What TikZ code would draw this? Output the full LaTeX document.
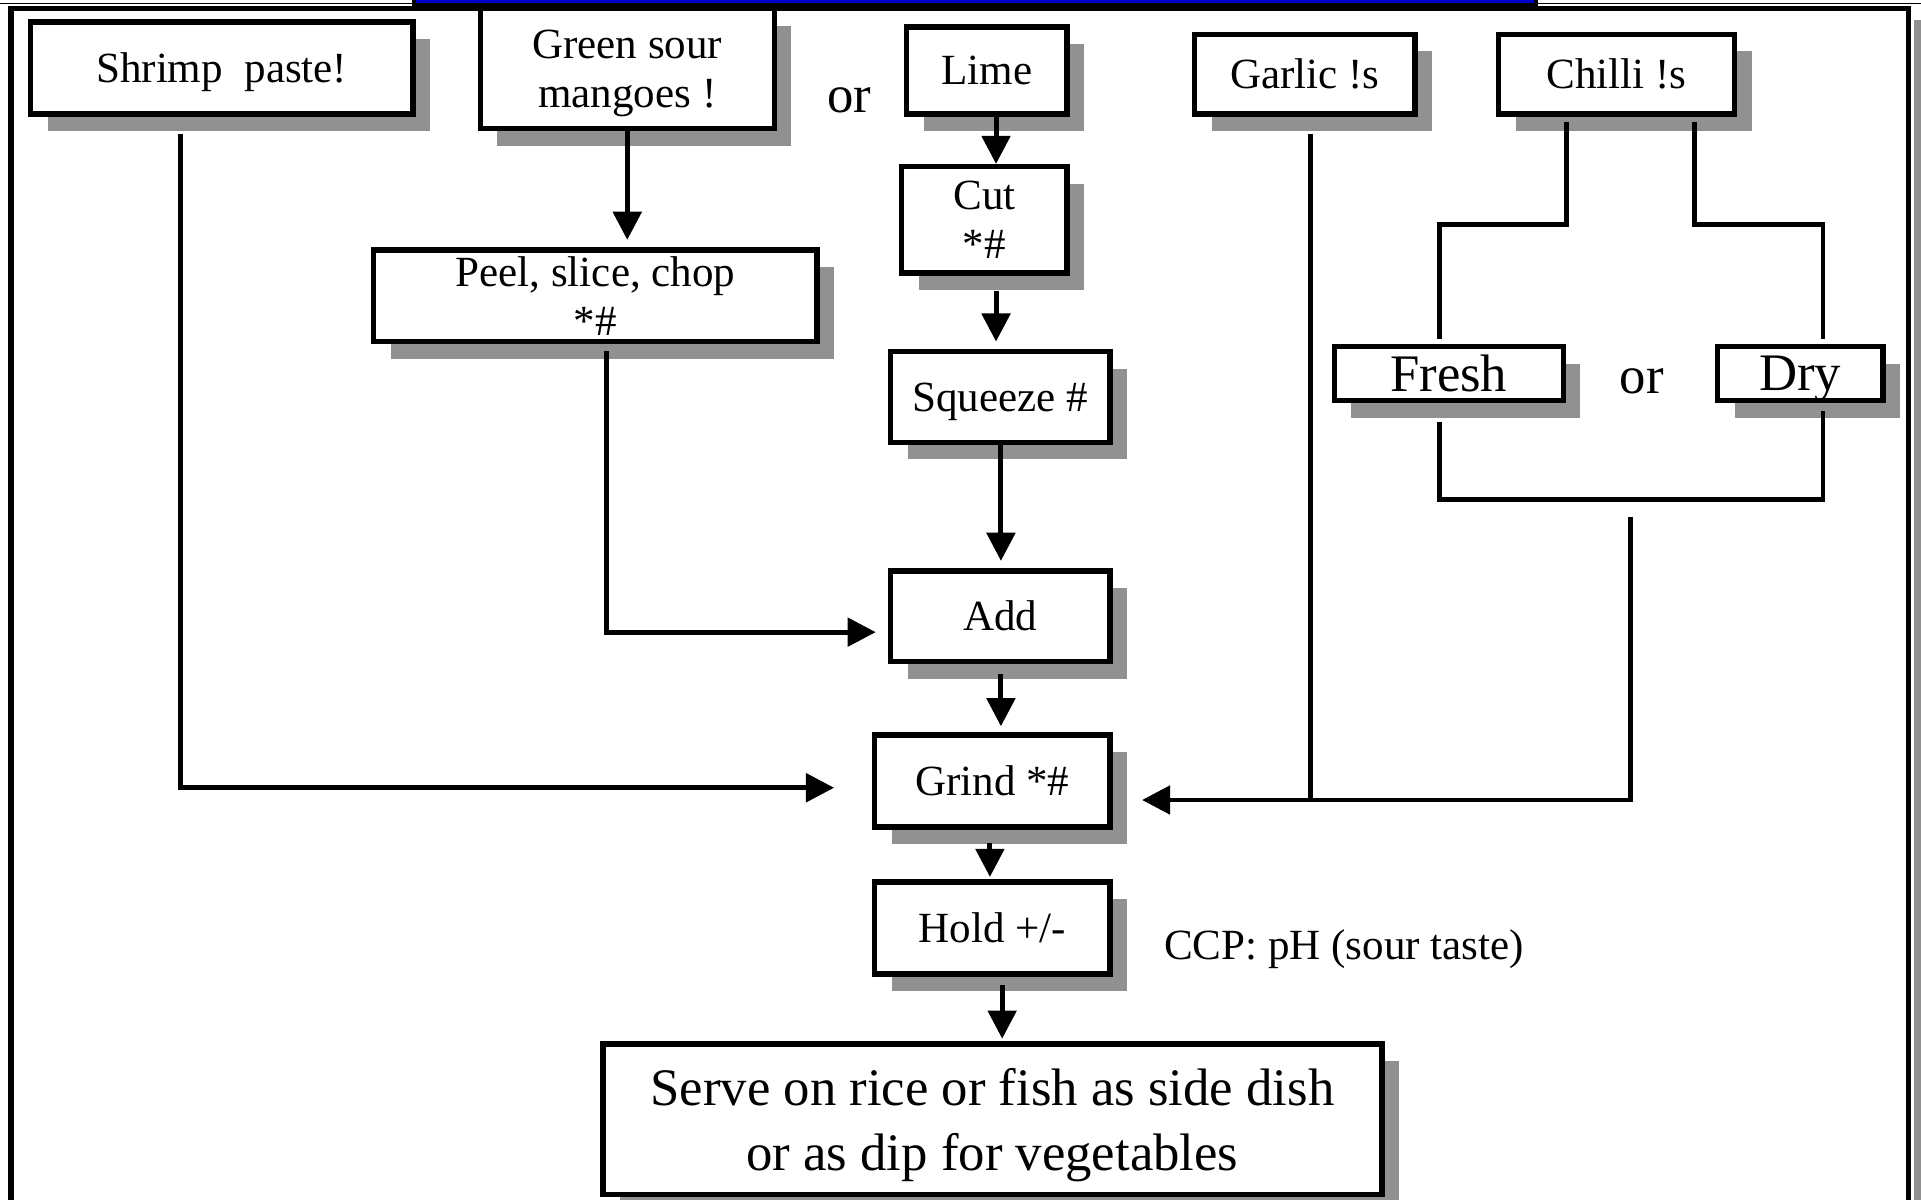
\documentclass[tikz,border=0pt]{standalone}
\usepackage{fontspec}
\setmainfont{Liberation Serif}
\usepackage{xcolor}
\definecolor{sombra}{RGB}{145,145,145}
\definecolor{azul}{RGB}{0,0,205}
\usepackage{tikz}
\usetikzlibrary{arrows.meta, shadows}

\tikzset{
  texto/.style={font=\fontsize{20}{23}\selectfont},
  grande/.style={font=\fontsize{24.5}{30}\selectfont},
  caja/.style={draw, line width=2.5pt, fill=white, inner sep=0pt, align=center, texto,
    drop shadow={shadow xshift=0.28cm, shadow yshift=-0.28cm, fill=sombra, opacity=1}},
  linea/.style={line width=2.3pt},
  flecha/.style={linea, -{Triangle[length=0.46cm, width=0.46cm]}}
}

\begin{document}
\begin{tikzpicture}[x=0.02cm, y=0.02cm]
    \useasboundingbox (0,0) rectangle (1568,-979);
    % Marco y barra azul de arriba
    \draw[line width=0.6pt] (0,-3) -- (1568,-3);
    \fill[sombra] (1562,-16) rectangle (1575,-990);
    \draw[line width=2.4pt] (9,-990) -- (9,-7) -- (1558,-7) -- (1558,-990);
    \draw[fill=azul, line width=2pt] (338,6) rectangle (1254,-4);
    % Ingredientes de arriba
    \node[caja, text depth=0pt, minimum width=6.24cm, minimum height=1.5cm] (shrimp) at (181,-55.5) {Shrimp\ \ paste!};
    \node[caja, text depth=0pt, minimum width=4.8cm, minimum height=1.96cm] (mango) at (512,-56) {Green sour\\mangoes !};
    \node[grande] (or1) at (693,-82) {or};
    \node[caja, minimum width=2.62cm, minimum height=1.42cm] (lime) at (805.5,-57.5) {Lime};
    \node[caja, minimum width=3.6cm, minimum height=1.3cm] (garlic) at (1065,-60.5) {Garlic !s};
    \node[caja, minimum width=3.86cm, minimum height=1.3cm] (chilli) at (1319.5,-60.5) {Chilli !s};
    % Pasos
    \node[caja, minimum width=2.7cm, minimum height=1.74cm] (cut) at (803.5,-179.5) {Cut\\*\#};
    \node[caja, minimum width=7.24cm, minimum height=1.5cm] (peel) at (486,-241.5) {Peel, slice, chop\\*\#};
    \node[caja, text depth=0pt, minimum width=3.58cm, minimum height=1.48cm] (squeeze) at (816.5,-324) {Squeeze \#};
    \node[caja, minimum width=3.58cm, minimum height=1.48cm] (add) at (816.5,-503) {Add};
    \node[caja, minimum width=3.84cm, minimum height=1.5cm] (grind) at (810,-637.5) {Grind *\#};
    \node[caja, minimum width=3.84cm, minimum height=1.5cm] (hold) at (810,-757.5) {Hold +/-};
    \node[caja, grande, text depth=0pt, minimum width=12.72cm, minimum height=2.46cm] (serve) at (810,-913.5) {Serve on rice or fish as side dish\\or as dip for vegetables};
    \node[texto] (ccp) at (1097,-775) {CCP: pH (sour taste)};
    % Chile fresco o seco
    \node[caja, grande, minimum width=3.74cm, minimum height=0.88cm] (fresh) at (1182.5,-305) {Fresh};
    \node[grande] (or2) at (1340,-311) {or};
    \node[caja, grande, text depth=0pt, minimum width=2.7cm, minimum height=0.88cm] (dry) at (1469.5,-305) {Dry};
    \coordinate (chile) at (1331,-422);
    \coordinate (cruce) at (1070,-653);
    % Flechas
    \draw[flecha, shorten <=0.28cm, shorten >=0.62cm] (shrimp.south -| 147,0) |- ([yshift=-0.11cm]grind.west);
    \draw[flecha, shorten >=0.12cm] (mango.south) -- (mango.south |- peel.north);
    \draw[flecha, shorten <=0.1cm, shorten >=0.2cm] (peel.south -| 495,0) |- ([yshift=-0.26cm]add.west);
    \draw[flecha] (lime.south -| 813,0) -- (cut.north -| 813,0);
    \draw[flecha, shorten <=0.24cm, shorten >=0.12cm] (cut.south -| 813,0) -- (squeeze.north -| 813,0);
    \draw[flecha, shorten >=0.12cm] (squeeze.south -| 817,0) -- (add.north -| 817,0);
    \draw[flecha, shorten <=0.16cm, shorten >=0.1cm] (add.south -| 817,0) -- (grind.north -| 817,0);
    \draw[flecha, shorten <=0.22cm, shorten >=0.04cm] (grind.south -| 808,0) -- (hold.north -| 808,0);
    \draw[flecha, shorten <=0.14cm, shorten >=0.04cm] (hold.south -| 818,0) -- (serve.north -| 818,0);
    \draw[linea, shorten <=0.28cm] (garlic.south -| cruce) -- (cruce);
    \draw[linea, shorten <=0.08cm, shorten >=0.08cm] (chilli.south -| 1279,0) -- (1279,-183) -- (1175,-183) -- (fresh.north -| 1175,0);
    \draw[linea, shorten <=0.08cm, shorten >=0.08cm] (chilli.south -| 1383,0) -- (1383,-183) -- (1488,-183) -- (dry.north -| 1488,0);
    \draw[linea, shorten <=0.3cm, shorten >=0.12cm] (fresh.south -| 1175,0) -- (1175,-408) -- (1488,-408) -- (dry.south -| 1488,0);
    \draw[flecha, shorten >=0.48cm] (chile) |- ([yshift=-0.31cm]grind.east);
\end{tikzpicture}
\end{document}
